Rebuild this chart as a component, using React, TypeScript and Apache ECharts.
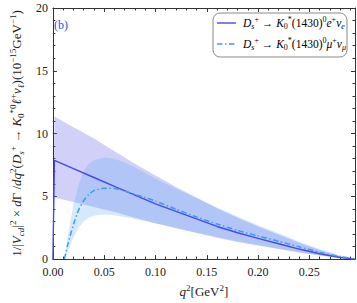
import React, { useEffect, useRef } from "react";
import * as echarts from "echarts";

// q^2 grid and values (10^-15 GeV^-1)
const qE = [0, 0.0015, 0.02, 0.04, 0.06, 0.08, 0.10, 0.12, 0.14, 0.16, 0.18, 0.20, 0.22, 0.24, 0.26, 0.28, 0.2945];
const eCentral = [0, 7.87, 7.2, 6.5, 5.8, 5.1, 4.4, 3.8, 3.2, 2.6, 2.1, 1.65, 1.22, 0.8, 0.43, 0.13, 0];
const eUpper = [0, 11.36, 10.5, 9.6, 8.6, 7.6, 6.65, 5.75, 4.9, 4.05, 3.3, 2.6, 1.95, 1.3, 0.72, 0.23, 0];
const eLower = [0, 4.9, 4.55, 4.15, 3.75, 3.3, 2.85, 2.45, 2.08, 1.7, 1.36, 1.08, 0.8, 0.52, 0.28, 0.08, 0];

const qMu = [0.0112, 0.014, 0.017, 0.02, 0.025, 0.03, 0.035, 0.04, 0.05, 0.06, 0.07, 0.08, 0.09, 0.10, 0.12, 0.14, 0.16, 0.18, 0.20, 0.22, 0.24, 0.26, 0.28, 0.2945];
const muCentral = [0, 1.0, 1.9, 2.75, 3.9, 4.65, 5.15, 5.45, 5.65, 5.62, 5.42, 5.15, 4.9, 4.62, 3.98, 3.35, 2.8, 2.28, 1.85, 1.42, 0.98, 0.55, 0.2, 0];
const muUpper = [0, 1.6, 3.0, 4.3, 5.9, 7.0, 7.6, 7.9, 8.1, 8.0, 7.7, 7.3, 6.85, 6.4, 5.6, 4.85, 4.1, 3.4, 2.7, 2.05, 1.4, 0.8, 0.3, 0];
const muLower = [0, 0.5, 1.1, 1.7, 2.5, 3.0, 3.3, 3.45, 3.55, 3.5, 3.35, 3.2, 3.02, 2.85, 2.5, 2.12, 1.76, 1.42, 1.12, 0.83, 0.55, 0.3, 0.1, 0];

const xTicks = [0, 0.05, 0.1, 0.15, 0.2, 0.25];
const yTicks = [0, 5, 10, 15, 20];

const SERIF = "Liberation Serif";
const nameE = "D_s+ → K0*(1430)0 e+ νe";
const nameMu = "D_s+ → K0*(1430)0 μ+ νμ";
const colorE = "#4848e8";
const colorMu = "#3b9cf5";
const dashMu = [5.5, 2.5, 1.5, 2.5];

const richBase = {
  n: { fontFamily: SERIF, fontSize: 13, color: "#222", lineHeight: 17 },
  i: { fontFamily: SERIF, fontSize: 13, fontStyle: "italic", color: "#222", lineHeight: 17 },
  sup: { fontFamily: SERIF, fontSize: 9, color: "#222", lineHeight: 11, verticalAlign: "top" },
  sub: { fontFamily: SERIF, fontSize: 9, color: "#222", lineHeight: 11, verticalAlign: "bottom" },
  subi: { fontFamily: SERIF, fontSize: 9, fontStyle: "italic", color: "#222", lineHeight: 11, verticalAlign: "bottom" },
};

const richLegend = {
  n: { fontFamily: SERIF, fontSize: 11.5, color: "#222", lineHeight: 15 },
  i: { fontFamily: SERIF, fontSize: 11.5, fontStyle: "italic", color: "#222", lineHeight: 15 },
  sup: { fontFamily: SERIF, fontSize: 8, color: "#222", lineHeight: 9, verticalAlign: "top" },
  sub: { fontFamily: SERIF, fontSize: 8, color: "#222", lineHeight: 9, verticalAlign: "bottom" },
  subi: { fontFamily: SERIF, fontSize: 8, fontStyle: "italic", color: "#222", lineHeight: 9, verticalAlign: "bottom" },
};

const zip = (xs: number[], ys: number[]) => xs.map((x, k) => [x, ys[k]]);

function bandSeries(name: string, q: number[], hi: number[], lo: number[], fill: string) {
  return {
    name,
    type: "custom",
    silent: true,
    z: 1,
    data: zip(q, hi),
    encode: { x: 0, y: 1 },
    renderItem: (params: any, api: any) => {
      if (params.dataIndex !== 0) return null;
      const top = q.map((x, k) => api.coord([x, hi[k]]));
      const bottom = q.map((x, k) => api.coord([x, lo[k]])).reverse();
      return {
        type: "polygon",
        shape: { points: top.concat(bottom) },
        style: { fill },
      };
    },
  };
}

export default function App() {
  const ref = useRef<HTMLDivElement>(null);
  useEffect(() => {
    if (!ref.current) return;
    const chart = echarts.init(ref.current, undefined, { renderer: "svg" });
    const axisCommon = {
      axisLine: { show: true, onZero: false, lineStyle: { color: "#333", width: 1 } },
      axisTick: { show: true, inside: true, length: 4, lineStyle: { color: "#333" } },
      minorTick: { show: true, splitNumber: 5, length: 2.5, lineStyle: { color: "#333" } },
      splitLine: { show: false },
    };
    const yName =
      "{n|1/|}{i|V}{subi|cd}{n||}{sup|2}{n| × }{i|d}{n|Γ /}{i|dq}{sup|2}{n|(}{i|D}{subi|s}{sup|+}{n| → }{i|K}{sub|0}{sup|*0}{i|ℓ}{sup|+}{i|ν}{subi|ℓ}{n|)(10}{sup|−15}{n|GeV}{sup|−1}{n|)}";
    const legendX = 213;
    const legendY = 13;
    const option = {
      animation: false,
      title: {
        text: "(b)",
        left: 54,
        top: 19,
        padding: 0,
        textStyle: { fontFamily: SERIF, fontSize: 12, fontWeight: "normal", color: "#2255ee" },
      },
      grid: { left: 39, right: 2, top: 8, bottom: 42, containLabel: false },
      xAxis: [
        {
          type: "value",
          min: 0,
          max: 0.2945,
          interval: 0.05,
          position: "bottom",
          ...axisCommon,
          axisLabel: {
            show: true,
            margin: 7,
            fontFamily: SERIF,
            fontSize: 12,
            color: "#222",
            showMaxLabel: false,
            formatter: (v: number) => (xTicks.some((t) => Math.abs(t - v) < 1e-6) ? v.toFixed(2) : ""),
          },
          name: "{i|q}{sup|2}{n|[GeV}{sup|2}{n|]}",
          nameLocation: "middle",
          nameGap: 22,
          nameTextStyle: { rich: richBase },
        },
        {
          type: "value",
          min: 0,
          max: 0.2945,
          interval: 0.05,
          position: "top",
          ...axisCommon,
          axisLabel: { show: false },
        },
      ],
      yAxis: [
        {
          type: "value",
          min: 0,
          max: 20,
          interval: 5,
          position: "left",
          ...axisCommon,
          axisLabel: {
            show: true,
            margin: 5,
            fontFamily: SERIF,
            fontSize: 12,
            color: "#222",
            formatter: (v: number) => (yTicks.includes(v) ? String(v) : ""),
          },
          name: yName,
          nameLocation: "middle",
          nameGap: 19,
          nameRotate: 90,
          nameTextStyle: { rich: richBase },
        },
        {
          type: "value",
          min: 0,
          max: 20,
          interval: 5,
          position: "right",
          ...axisCommon,
          axisLabel: { show: false },
        },
      ],
      graphic: [
        {
          type: "rect",
          z: 10,
          shape: { x: legendX, y: legendY, width: 134, height: 44, r: 7 },
          style: { fill: "#fff", stroke: "#888", lineWidth: 1 },
        },
        {
          type: "line",
          z: 11,
          shape: { x1: legendX + 4, y1: legendY + 10, x2: legendX + 23, y2: legendY + 10 },
          style: { stroke: colorE, lineWidth: 1.4 },
        },
        {
          type: "line",
          z: 11,
          shape: { x1: legendX + 4, y1: legendY + 31, x2: legendX + 23, y2: legendY + 31 },
          style: { stroke: colorMu, lineWidth: 1.5, lineDash: dashMu },
        },
        {
          type: "text",
          z: 11,
          x: legendX + 30,
          y: legendY + 10,
          style: {
            text: "{i|D}{subi|s}{sup|+}{n| → }{i|K}{sub|0}{sup|*}{n|(1430)}{sup|0}{i|e}{sup|+}{i|ν}{subi|e}",
            rich: richLegend,
            verticalAlign: "middle",
          },
        },
        {
          type: "text",
          z: 11,
          x: legendX + 30,
          y: legendY + 31,
          style: {
            text: "{i|D}{subi|s}{sup|+}{n| → }{i|K}{sub|0}{sup|*}{n|(1430)}{sup|0}{i|μ}{sup|+}{i|ν}{subi|μ}",
            rich: richLegend,
            verticalAlign: "middle",
          },
        },
      ],
      series: [
        bandSeries("eBand", qE, eUpper, eLower, "rgba(100,100,235,0.3)"),
        bandSeries("muBand", qMu, muUpper, muLower, "rgba(100,170,245,0.27)"),
        {
          name: nameE,
          type: "line",
          data: zip(qE, eCentral),
          symbol: "none",
          lineStyle: { color: colorE, width: 1.4 },
          z: 3,
        },
        {
          name: nameMu,
          type: "line",
          data: zip(qMu, muCentral),
          symbol: "none",
          smooth: 0.2,
          lineStyle: { color: colorMu, width: 1.5, type: dashMu },
          z: 3,
        },
      ],
    };
    chart.setOption(option as any);
    return () => chart.dispose();
  }, []);
  return (
    <div
      ref={ref}
      style={{ position: "fixed", left: 0, top: 0, width: 357, height: 303, background: "#fff" }}
    />
  );
}
